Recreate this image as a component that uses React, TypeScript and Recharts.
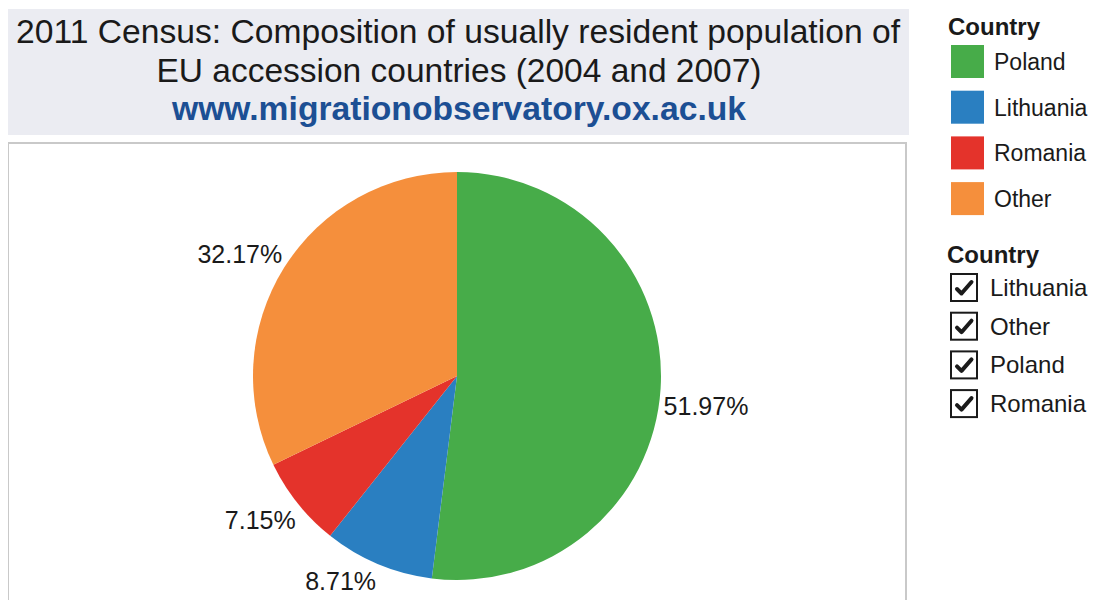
import React from 'react';
import { PieChart, Pie, Cell, Legend } from 'recharts';

const countries = ['Poland', 'Lithuania', 'Romania', 'Other'];
const shares = [51.97, 8.71, 7.15, 32.17];
const colors = ['#47ac49', '#2a7fc1', '#e4332b', '#f58f3c'];
const filterItems = ['Lithuania', 'Other', 'Poland', 'Romania'];
const titleLines = [
  '2011 Census: Composition of usually resident population of',
  'EU accession countries (2004 and 2007)',
];
const urlLine = 'www.migrationobservatory.ox.ac.uk';
const legendTitle = 'Country';

const data = countries.map((c, i) => ({ name: c, value: shares[i] }));

const FONT = '"Liberation Sans", Arial, Helvetica, sans-serif';
const RAD = Math.PI / 180;

const renderLabel = (props: any) => {
  const { cx, cy, midAngle, outerRadius, value } = props;
  const cos = Math.cos(-midAngle * RAD);
  const sin = Math.sin(-midAngle * RAD);
  const ax = cx + outerRadius * cos;
  const ay = cy + outerRadius * sin;
  const right = cos >= 0;
  const below = sin >= 0;
  const x = right ? ax + 3 : ax - 2;
  const y = below ? ay + 26 : ay - 5;
  return (
    <text
      x={x}
      y={y}
      textAnchor={right ? 'start' : 'end'}
      fill="#1a1a1a"
      fontSize={25}
      fontFamily={FONT}
    >
      {`${Number(value).toFixed(2)}%`}
    </text>
  );
};

const LegendContent = () => (
  <svg width={170} height={420} style={{ display: 'block', overflow: 'visible' }}>
    <g transform="translate(10, 0)">
      <text x={8} y={27} fontSize={24} fontWeight="bold" fontFamily={FONT} fill="#1a1a1a">
        {legendTitle}
      </text>
      {countries.map((c, i) => (
        <g key={c} transform={`translate(0, ${37 + i * 45.7})`}>
          <rect x={11} y={0} width={33} height={33} fill={colors[i]} />
          <text x={54} y={25} fontSize={23} fontFamily={FONT} fill="#1a1a1a">
            {c}
          </text>
        </g>
      ))}
      <text x={7} y={255} fontSize={24} fontWeight="bold" fontFamily={FONT} fill="#1a1a1a">
        {legendTitle}
      </text>
      {filterItems.map((c, i) => (
        <g key={c} transform={`translate(0, ${265 + i * 38.7})`}>
          <rect x={11} y={1} width={26} height={27} fill="#fff" stroke="#1a1a1a" strokeWidth={2} />
          <path
            d="M17 16 L21.5 20.5 L31.5 9"
            fill="none"
            stroke="#1a1a1a"
            strokeWidth={4}
            strokeLinecap="round"
            strokeLinejoin="round"
          />
          <text x={50} y={23} fontSize={24} fontFamily={FONT} fill="#1a1a1a">
            {c}
          </text>
        </g>
      ))}
    </g>
  </svg>
);

export default function App() {
  return (
    <div style={{ position: 'relative', width: 1080, height: 592 }}>
      <div
        style={{
          position: 'absolute',
          left: -1,
          top: 1,
          width: 902,
          height: 126,
          background: '#ebecf2',
        }}
      >
        <svg width={902} height={126} style={{ display: 'block' }}>
          <text
            x={451}
            y={34}
            textAnchor="middle"
            fontSize={33.5}
            fontFamily={FONT}
            fill="#1a1a1a"
            textLength={884}
            lengthAdjust="spacingAndGlyphs"
          >
            {titleLines[0]}
          </text>
          <text
            x={452}
            y={73}
            textAnchor="middle"
            fontSize={33.5}
            fontFamily={FONT}
            fill="#1a1a1a"
            textLength={605}
            lengthAdjust="spacingAndGlyphs"
          >
            {titleLines[1]}
          </text>
          <text
            x={452}
            y={111}
            textAnchor="middle"
            fontSize={33.5}
            fontWeight="bold"
            fontFamily={FONT}
            fill="#1c4f94"
            textLength={574}
            lengthAdjust="spacingAndGlyphs"
          >
            {urlLine}
          </text>
        </svg>
      </div>
      <div
        style={{
          position: 'absolute',
          left: -1,
          top: 134,
          width: 896,
          height: 474,
          borderTop: '2px solid #c9c9c9',
          borderLeft: '2px solid #c9c9c9',
          borderRight: '2px solid #c9c9c9',
          background: '#fff',
        }}
      />
      <div style={{ position: 'absolute', left: 0, top: 0 }}>
        <PieChart width={1080} height={600} margin={{ top: 0, right: 0, bottom: 0, left: 0 }}>
          <Pie
            data={data}
            dataKey="value"
            nameKey="name"
            cx={449}
            cy={368}
            outerRadius={204}
            startAngle={90}
            endAngle={-270}
            stroke="none"
            labelLine={false}
            label={renderLabel}
            isAnimationActive={false}
          >
            {data.map((d, i) => (
              <Cell key={d.name} fill={colors[i]} />
            ))}
          </Pie>
          <Legend
            content={<LegendContent />}
            wrapperStyle={{ position: 'absolute', left: 922, top: 0, width: 170, height: 420, overflow: 'visible' }}
          />
        </PieChart>
      </div>
    </div>
  );
}
